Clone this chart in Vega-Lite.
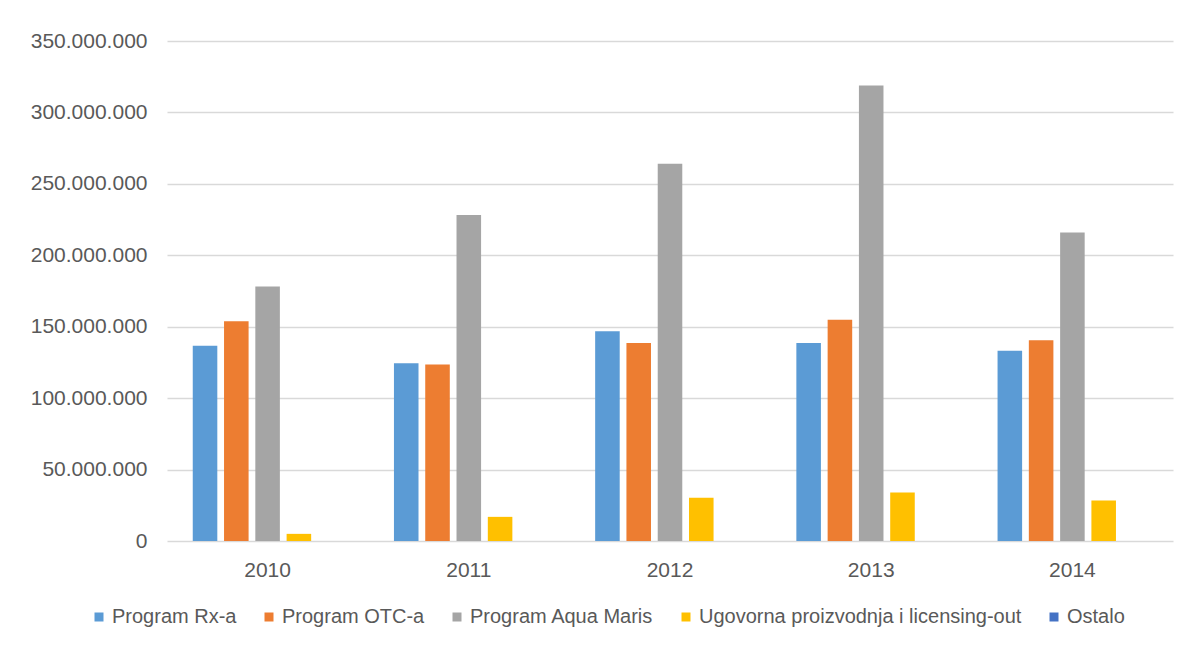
{
  "$schema": "https://vega.github.io/schema/vega-lite/v6.json",
  "width": 1006,
  "height": 500,
  "autosize": {"type": "none"},
  "padding": {"left": 167, "top": 41, "right": 19, "bottom": 107},
  "background": "#ffffff",
  "data": {
    "values": [
      {"year": "2010", "series": "Program Rx-a", "value": 136700000},
      {"year": "2010", "series": "Program OTC-a", "value": 153800000},
      {"year": "2010", "series": "Program Aqua Maris", "value": 178200000},
      {"year": "2010", "series": "Ugovorna proizvodnja i licensing-out", "value": 5000000},
      {"year": "2010", "series": "Ostalo", "value": 0},
      {"year": "2011", "series": "Program Rx-a", "value": 124400000},
      {"year": "2011", "series": "Program OTC-a", "value": 123500000},
      {"year": "2011", "series": "Program Aqua Maris", "value": 228200000},
      {"year": "2011", "series": "Ugovorna proizvodnja i licensing-out", "value": 16900000},
      {"year": "2011", "series": "Ostalo", "value": 0},
      {"year": "2012", "series": "Program Rx-a", "value": 146800000},
      {"year": "2012", "series": "Program OTC-a", "value": 138600000},
      {"year": "2012", "series": "Program Aqua Maris", "value": 264100000},
      {"year": "2012", "series": "Ugovorna proizvodnja i licensing-out", "value": 30200000},
      {"year": "2012", "series": "Ostalo", "value": 0},
      {"year": "2013", "series": "Program Rx-a", "value": 138600000},
      {"year": "2013", "series": "Program OTC-a", "value": 154900000},
      {"year": "2013", "series": "Program Aqua Maris", "value": 318800000},
      {"year": "2013", "series": "Ugovorna proizvodnja i licensing-out", "value": 33900000},
      {"year": "2013", "series": "Ostalo", "value": 0},
      {"year": "2014", "series": "Program Rx-a", "value": 133200000},
      {"year": "2014", "series": "Program OTC-a", "value": 140500000},
      {"year": "2014", "series": "Program Aqua Maris", "value": 215900000},
      {"year": "2014", "series": "Ugovorna proizvodnja i licensing-out", "value": 28300000},
      {"year": "2014", "series": "Ostalo", "value": 0}
    ]
  },
  "mark": {"type": "bar"},
  "encoding": {
    "x": {
      "field": "year",
      "type": "nominal",
      "scale": {"paddingInner": 0.256, "paddingOuter": 0.128},
      "axis": {
        "title": null,
        "labelAngle": 0,
        "domain": false,
        "ticks": false,
        "labelPadding": 18,
        "labelFontSize": 21,
        "labelColor": "#595959",
        "labelFont": "Liberation Sans"
      }
    },
    "xOffset": {
      "field": "series",
      "type": "nominal",
      "sort": ["Program Rx-a", "Program OTC-a", "Program Aqua Maris", "Ugovorna proizvodnja i licensing-out", "Ostalo"],
      "scale": {"paddingInner": 0.215, "paddingOuter": 0}
    },
    "y": {
      "field": "value",
      "type": "quantitative",
      "scale": {"domain": [0, 350000000], "nice": false},
      "axis": {
        "title": null,
        "values": [0, 50000000, 100000000, 150000000, 200000000, 250000000, 300000000, 350000000],
        "format": ",.0f",
        "domain": false,
        "ticks": false,
        "labelPadding": 20,
        "labelFontSize": 21,
        "labelColor": "#595959",
        "labelFont": "Liberation Sans",
        "grid": true,
        "gridColor": "#d9d9d9",
        "gridWidth": 1.5
      }
    },
    "color": {
      "field": "series",
      "type": "nominal",
      "sort": ["Program Rx-a", "Program OTC-a", "Program Aqua Maris", "Ugovorna proizvodnja i licensing-out", "Ostalo"],
      "scale": {
        "domain": ["Program Rx-a", "Program OTC-a", "Program Aqua Maris", "Ugovorna proizvodnja i licensing-out", "Ostalo"],
        "range": ["#5B9BD5", "#ED7D31", "#A5A5A5", "#FFC000", "#4472C4"]
      },
      "legend": {
        "title": null,
        "orient": "none",
        "direction": "horizontal",
        "legendX": -78,
        "legendY": 566,
        "symbolType": "square",
        "symbolSize": 81,
        "symbolStrokeWidth": 0,
        "labelFontSize": 20,
        "labelColor": "#595959",
        "labelFont": "Liberation Sans",
        "labelOffset": 3,
        "columnPadding": 22,
        "labelLimit": 0
      }
    }
  },
  "config": {
    "locale": {
      "number": {"decimal": ",", "thousands": ".", "grouping": [3], "currency": ["", ""]}
    },
    "view": {"stroke": null}
  }
}
